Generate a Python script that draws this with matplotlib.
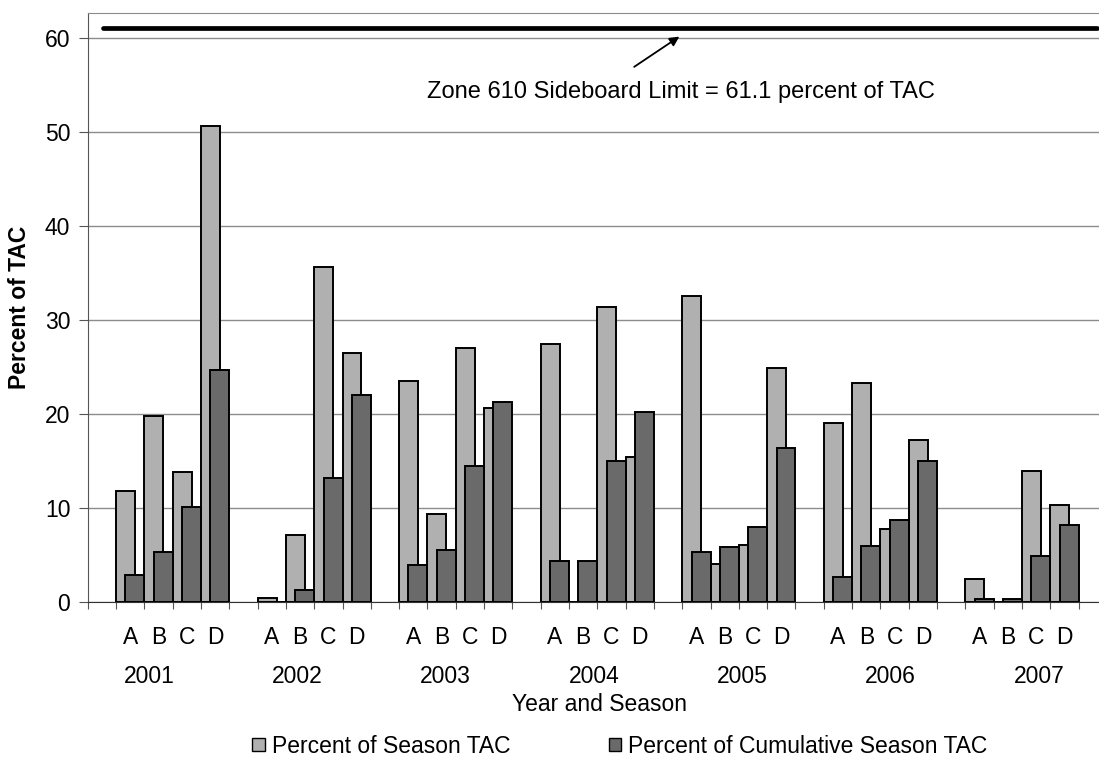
import numpy as np
import matplotlib.pyplot as plt
from matplotlib.patches import Patch
from matplotlib import transforms

plt.rcParams['font.family'] = ['Liberation Sans', 'DejaVu Sans']

years = ['2001', '2002', '2003', '2004', '2005', '2006', '2007']
seasons = ['A', 'B', 'C', 'D']
# percent of season TAC (light bars), A-D for each year
season_pct = [11.8, 19.8, 13.9, 50.7,
              0.5, 7.2, 35.7, 26.5,
              23.5, 9.4, 27.0, 20.7,
              27.5, 0.0, 31.4, 15.5,
              32.6, 4.1, 6.1, 24.9,
              19.1, 23.3, 7.8, 17.3,
              2.5, 0.0, 14.0, 10.3]
# percent of cumulative season TAC (dark bars)
cumulative_pct = [2.9, 5.3, 10.1, 24.7,
                  0.0, 1.3, 13.2, 22.1,
                  4.0, 5.6, 14.5, 21.3,
                  4.4, 4.4, 15.0, 20.2,
                  5.3, 5.9, 8.0, 16.4,
                  2.7, 6.0, 8.8, 15.0,
                  0.3, 0.3, 4.9, 8.2]
sideboard_limit = 61.1

light = '#b0b0b0'
dark = '#6a6a6a'

fig = plt.figure(figsize=(10.99, 7.57), dpi=100)
ax = fig.add_axes([0.0798, 0.2044, 0.9202, 0.7785])

# one empty category between years
pos = np.array([i * 5 + j + 1 for i in range(len(years)) for j in range(len(seasons))], dtype=float)
ax.bar(pos, season_pct, width=0.67, align='edge', color=light, edgecolor='black',
       linewidth=1.4, zorder=3)
ax.bar(pos + 0.33, cumulative_pct, width=0.67, align='edge', color=dark, edgecolor='black',
       linewidth=1.4, zorder=4)

ax.plot([0.54, 35.66], [sideboard_limit, sideboard_limit], color='black', lw=3.4,
        solid_capstyle='round', zorder=5)
ax.annotate('', xy=(20.98, 60.35), xytext=(19.22, 56.8),
            arrowprops=dict(arrowstyle='-|>', color='black', lw=1.3, mutation_scale=14))
ax.text(20.94, 54.3, 'Zone 610 Sideboard Limit = %.1f percent of TAC' % sideboard_limit,
        ha='center', va='center', fontsize=17)

ax.set_xlim(0, 35.72)
ax.set_ylim(0, 62.7)
ax.set_yticks(np.arange(0, 61, 10))
ax.set_xticks(np.arange(0, 36))
ax.set_xticklabels([])
ax.tick_params(axis='x', length=5, color='#555555')
ax.tick_params(axis='y', length=6.5, pad=6, labelsize=16.5, color='#555555')
ax.grid(axis='y', color='#8c8c8c', lw=1.0, zorder=0)
ax.set_axisbelow(True)
ax.spines['right'].set_visible(False)
ax.spines['top'].set_color('#8c8c8c')
ax.spines['left'].set_color('#555555')
ax.spines['bottom'].set_color('#333333')

# category labels
tr = transforms.blended_transform_factory(ax.transData, fig.transFigure)
for i, yr in enumerate(years):
    for j, s in enumerate(seasons):
        ax.text(pos[i * 4 + j] + 0.5, 0.1585, s, transform=tr, ha='center', va='center',
                fontsize=16.5)
    ax.text(2.16 + i * 5.24, 0.1057, yr, transform=tr, ha='center', va='center', fontsize=16.5)

fig.text(600 / 1099, 0.0687, 'Year and Season', ha='center', va='center', fontsize=16.5)
fig.text(20 / 1099, 0.5945, 'Percent of TAC', rotation=90, ha='center', va='center',
         fontsize=16.5, fontweight='bold')

handles = [Patch(facecolor=light, edgecolor='black', lw=1.0, label='Percent of Season TAC'),
           Patch(facecolor=dark, edgecolor='black', lw=1.0, label='Percent of Cumulative Season TAC')]
fig.legend(handles=handles, loc='center', bbox_to_anchor=(620 / 1099, 0.0145), ncol=2,
           frameon=False, fontsize=16.5, handlelength=0.55, handleheight=0.55,
           handletextpad=0.3, columnspacing=4.3, borderpad=0)

fig.savefig('out.png', dpi=100)
